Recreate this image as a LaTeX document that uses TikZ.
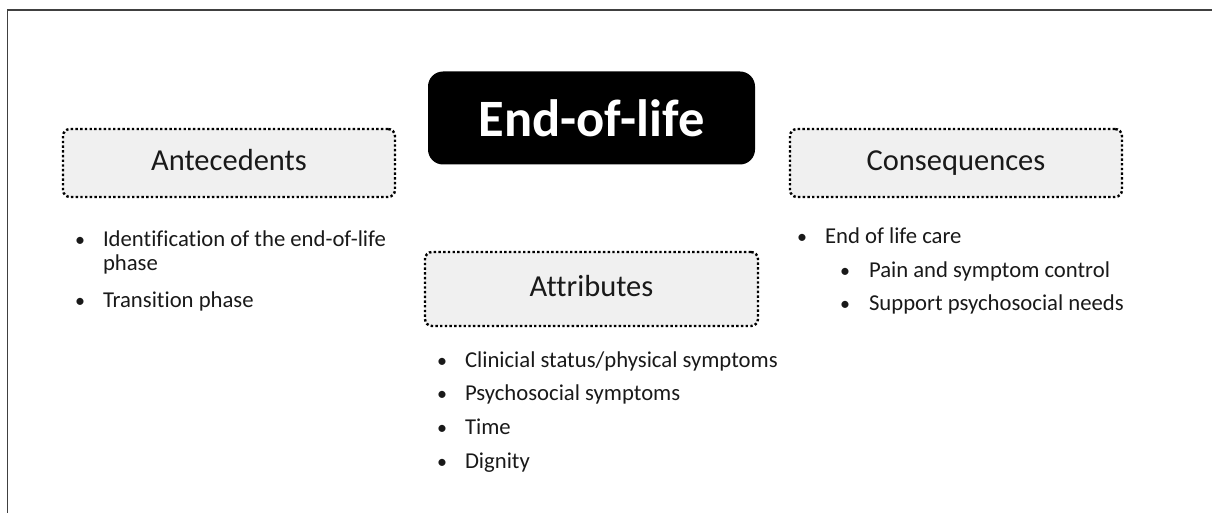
\documentclass[tikz,border=0pt]{standalone}
\usepackage{fontspec}
\setmainfont{Carlito}[Ligatures=NoCommon]
\begin{document}
\begin{tikzpicture}[x=1pt,y=-1pt,
  concept/.style={draw=black, fill=black!6, line width=2.4pt,
    dash pattern=on 2.4pt off 2.3pt, rounded corners=7pt,
    inner sep=0pt, text height=22pt, text depth=7pt,
    font=\fontsize{30.5}{36}\selectfont, text=black!90},
  titlebox/.style={fill=black, rounded corners=15pt, inner sep=0pt,
    minimum width=327pt, minimum height=93pt,
    font=\bfseries\fontsize{52.5}{60}\selectfont, text=white},
  item/.style={anchor=base west, inner sep=0pt, outer sep=0pt,
    font=\fontsize{22.7}{27}\selectfont, text=black!90},
  dot/.style={item, font=\fontsize{20}{24}\selectfont}
]
\useasboundingbox (0,0) rectangle (1212,513);

% page frame: top and left rules
\coordinate (fbl) at (7.5,513);
\coordinate (ftl) at (7.5,10);
\coordinate (ftr) at (1212,10);
\draw[black!75, line width=1.6pt] (fbl) -- (ftl) -- (ftr);

% central concept
\node[titlebox] (eol) at (591.5,118) {End-of-life};

% the three headings
\node[concept, minimum width=332pt, minimum height=68pt] (ante) at (229,163) {Antecedents};
\node[concept, minimum width=332pt, minimum height=68pt] (cons) at (956,163) {Consequences};
\node[concept, minimum width=333pt, minimum height=74pt] (attr) at (591.5,289) {Attributes};

% antecedents list
\node[dot]  (a1b) at (75,246) {•};
\node[item] (a1)  at (103,246) {Identification of the end-of-life};
\node[item] (a1c) at (103,270) {phase};
\node[dot]  (a2b) at (75,307) {•};
\node[item] (a2)  at (103,307) {Transition phase};

% attributes list
\node[dot]  (t1b) at (437,367) {•};
\node[item] (t1)  at (465,367) {Clinicial status/physical symptoms};
\node[dot]  (t2b) at (437,400) {•};
\node[item] (t2)  at (465,400) {Psychosocial symptoms};
\node[dot]  (t3b) at (437,434) {•};
\node[item] (t3)  at (465,434) {Time};
\node[dot]  (t4b) at (437,468) {•};
\node[item] (t4)  at (465,468) {Dignity};

% consequences list
\node[dot]  (c1b) at (797,243) {•};
\node[item] (c1)  at (825,243) {End of life care};
\node[dot]  (c2b) at (840,277) {•};
\node[item] (c2)  at (869,277) {Pain and symptom control};
\node[dot]  (c3b) at (840,310) {•};
\node[item] (c3)  at (869,310) {Support psychosocial needs};
\end{tikzpicture}
\end{document}
